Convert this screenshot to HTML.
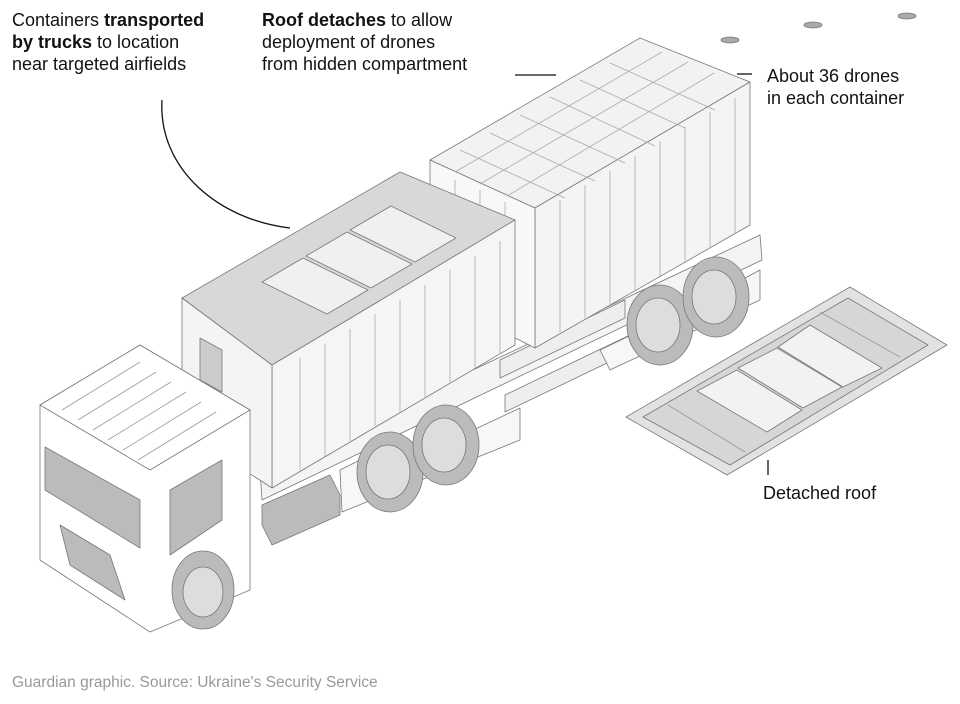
<!DOCTYPE html>
<html><head><meta charset="utf-8"><style>
html,body{margin:0;padding:0;background:#fff;}
body{width:960px;height:704px;position:relative;overflow:hidden;font-family:"Liberation Sans",sans-serif;color:#121212;}
.t{position:absolute;font-size:18px;line-height:22px;}
b{font-weight:bold;}
.f{position:absolute;left:12px;top:674px;font-size:15.5px;color:#999;}
</style></head><body>
<svg width="960" height="704" style="position:absolute;left:0;top:0" stroke="#777" stroke-width="0.8" stroke-linejoin="round">
<path d="M162 100 C158 170 220 220 290 228" fill="none" stroke="#121212" stroke-width="1.3"/>
<line x1="515" y1="75" x2="556" y2="75" stroke="#121212" stroke-width="1.3"/>
<line x1="737" y1="74" x2="752" y2="74" stroke="#121212" stroke-width="1.3"/>
<line x1="768" y1="460" x2="768" y2="475" stroke="#121212" stroke-width="1.3"/>
<!-- chassis -->
<polygon points="260,470 760,235 762,260 262,500" fill="#f4f4f4"/>
<polygon points="500,360 625,300 625,318 500,378" fill="#eee"/>
<polygon points="505,395 630,335 630,352 505,412" fill="#eee"/>
<polygon points="340,470 360,460 420,455 520,408 520,440 342,512" fill="#f7f7f7"/>
<polygon points="600,350 700,302 760,270 760,300 610,370" fill="#f7f7f7"/>
<polygon points="262,505 330,475 340,495 340,515 272,545 262,525" fill="#bbb"/>
<!-- rear wheels -->
<g fill="#bbb"><ellipse cx="390" cy="472" rx="33" ry="40"/><ellipse cx="446" cy="445" rx="33" ry="40"/><ellipse cx="660" cy="325" rx="33" ry="40"/><ellipse cx="716" cy="297" rx="33" ry="40"/></g>
<g fill="#ddd"><ellipse cx="388" cy="472" rx="22" ry="27"/><ellipse cx="444" cy="445" rx="22" ry="27"/><ellipse cx="658" cy="325" rx="22" ry="27"/><ellipse cx="714" cy="297" rx="22" ry="27"/></g>
<!-- back container -->
<polygon points="430,160 640,38 750,82 535,208" fill="#f2f2f2"/>
<polygon points="535,208 750,82 750,225 535,348" fill="#f4f4f4"/>
<polygon points="430,160 535,208 535,348 430,295" fill="#f8f8f8"/>
<g stroke="#aaa">
<line x1="560" y1="200" x2="560" y2="332"/><line x1="585" y1="185" x2="585" y2="318"/><line x1="610" y1="171" x2="610" y2="304"/><line x1="635" y1="156" x2="635" y2="290"/><line x1="660" y1="141" x2="660" y2="276"/><line x1="685" y1="127" x2="685" y2="262"/><line x1="710" y1="112" x2="710" y2="248"/><line x1="735" y1="98" x2="735" y2="234"/>
<line x1="455" y1="180" x2="455" y2="300"/><line x1="480" y1="190" x2="480" y2="312"/><line x1="505" y1="202" x2="505" y2="325"/>
<line x1="460" y1="150" x2="565" y2="198"/><line x1="490" y1="133" x2="595" y2="181"/><line x1="520" y1="115" x2="625" y2="163"/><line x1="550" y1="97" x2="655" y2="146"/><line x1="580" y1="80" x2="685" y2="128"/><line x1="610" y1="63" x2="715" y2="110"/>
<line x1="455" y1="172" x2="662" y2="52"/><line x1="480" y1="184" x2="688" y2="62"/><line x1="507" y1="196" x2="714" y2="73"/>
</g>
<!-- front container -->
<polygon points="182,298 400,172 515,220 272,365" fill="#d8d8d8"/>
<polygon points="262,282 303,258 368,290 327,314" fill="#f0f0f0"/>
<polygon points="306,256 347,232 412,264 371,288" fill="#f0f0f0"/>
<polygon points="350,230 391,206 456,238 415,262" fill="#f0f0f0"/>
<polygon points="272,365 515,220 515,345 272,488" fill="#f5f5f5"/>
<polygon points="182,298 272,365 272,488 182,430" fill="#f4f4f4"/>
<polygon points="200,338 222,350 222,392 200,380" fill="#ccc"/>
<g stroke="#aaa">
<line x1="300" y1="358" x2="300" y2="470"/><line x1="325" y1="344" x2="325" y2="456"/><line x1="350" y1="329" x2="350" y2="441"/><line x1="375" y1="314" x2="375" y2="426"/><line x1="400" y1="300" x2="400" y2="412"/><line x1="425" y1="285" x2="425" y2="397"/><line x1="450" y1="270" x2="450" y2="382"/><line x1="475" y1="256" x2="475" y2="368"/><line x1="500" y1="241" x2="500" y2="353"/>
</g>
<!-- truck cab -->
<polygon points="40,405 140,345 250,410 250,590 150,632 40,560" fill="#fff"/>
<polygon points="40,405 140,345 250,410 150,470" fill="#fff"/>
<polygon points="45,447 140,500 140,548 45,490" fill="#bbb"/>
<polygon points="170,490 222,460 222,520 170,555" fill="#bbb"/>
<polygon points="60,525 110,555 125,600 70,565" fill="#bbb"/>
<g stroke="#999"><line x1="62" y1="410" x2="140" y2="362"/><line x1="78" y1="420" x2="156" y2="372"/><line x1="93" y1="430" x2="171" y2="382"/><line x1="108" y1="440" x2="186" y2="392"/><line x1="123" y1="450" x2="201" y2="402"/><line x1="138" y1="460" x2="216" y2="412"/></g>
<ellipse cx="203" cy="590" rx="31" ry="39" fill="#bbb"/><ellipse cx="203" cy="592" rx="20" ry="25" fill="#ddd"/>
<!-- detached roof -->
<polygon points="626,417 850,287 947,345 727,475" fill="#e2e2e2"/>
<polygon points="643,417 848,298 928,345 730,465" fill="#d6d6d6"/>
<polygon points="697,391 737,370 802,410 767,432" fill="#f2f2f2"/>
<polygon points="738,368 777,348 842,387 803,408" fill="#f2f2f2"/>
<polygon points="778,347 810,325 882,368 843,387" fill="#f2f2f2"/>
<g stroke="#999"><line x1="668" y1="405" x2="745" y2="452"/><line x1="820" y1="312" x2="900" y2="357"/></g>
<!-- drones -->
<g fill="#aaa"><ellipse cx="730" cy="40" rx="9" ry="3"/><ellipse cx="813" cy="25" rx="9" ry="3"/><ellipse cx="907" cy="16" rx="9" ry="3"/></g>
</svg>
<div class="t" style="left:12px;top:9px">Containers <b>transported<br>by trucks</b> to location<br>near targeted airfields</div>
<div class="t" style="left:262px;top:9px"><b>Roof detaches</b> to allow<br>deployment of drones<br>from hidden compartment</div>
<div class="t" style="left:767px;top:65px">About 36 drones<br>in each container</div>
<div class="t" style="left:763px;top:482px">Detached roof</div>
<div class="f">Guardian graphic. Source: Ukraine's Security Service</div>
</body></html>
